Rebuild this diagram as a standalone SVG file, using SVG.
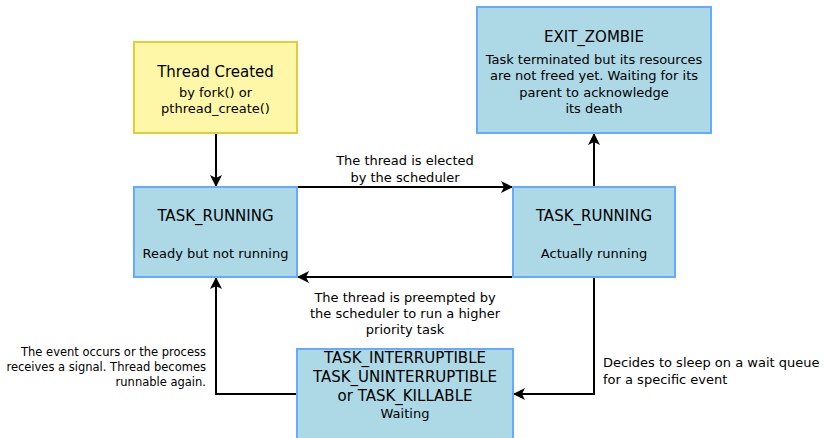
<svg xmlns="http://www.w3.org/2000/svg" width="825" height="438" viewBox="0 0 825 438">
<defs>
<marker id="arr" viewBox="0 0 12 12" refX="11" refY="6" markerWidth="12" markerHeight="12" markerUnits="userSpaceOnUse" orient="auto">
<path d="M0,0 L12,6 L0,12 L3,6 Z" fill="#000"/>
</marker>
<style>
text{font-family:"DejaVu Sans",sans-serif;fill:#000}
.t{font-size:15px;text-anchor:middle}
.s{font-size:13px;text-anchor:middle}
.l{font-size:13px}
.sm{font-size:11.5px;text-anchor:end}
.box{fill:#add8e6;stroke:#66aaff;stroke-width:2}
.yel{fill:#fff7a8;stroke:#e0cf3c;stroke-width:2}
.c{fill:none;stroke:#000;stroke-width:2;marker-end:url(#arr)}
</style>
</defs>
<rect width="825" height="438" fill="#fff"/>
<g id="connectors">
<path class="c" d="M216,133 V186"/>
<path class="c" d="M297,187 H512"/>
<path class="c" d="M513,277 H298"/>
<path class="c" d="M594,187 V134"/>
<path class="c" d="M594,277 V394 H514"/>
<path class="c" d="M297,394 H216 V278"/>
<text class="s" x="405" y="165">The thread is elected</text>
<text class="s" x="405" y="182">by the scheduler</text>
<text class="s" x="405" y="302">The thread is preempted by</text>
<text class="s" x="405" y="318">the scheduler to run a higher</text>
<text class="s" x="405" y="334">priority task</text>
<text class="l" x="603" y="367">Decides to sleep on a wait queue</text>
<text class="l" x="603" y="384">for a specific event</text>
<text class="sm" x="206" y="356">The event occurs or the process</text>
<text class="sm" x="206" y="371">receives a signal. Thread becomes</text>
<text class="sm" x="206" y="386">runnable again.</text>
</g>
<g id="created">
<rect class="yel" x="134" y="42" width="163" height="91"/>
<text class="t" x="215.5" y="77">Thread Created</text>
<text class="s" x="215.5" y="97">by fork() or</text>
<text class="s" x="215.5" y="113">pthread_create()</text>
</g>
<g id="ready">
<rect class="box" x="134" y="187" width="163" height="90"/>
<text class="t" x="215.5" y="221">TASK_RUNNING</text>
<text class="s" x="215.5" y="258">Ready but not running</text>
</g>
<g id="running">
<rect class="box" x="513" y="187" width="162" height="90"/>
<text class="t" x="594" y="221">TASK_RUNNING</text>
<text class="s" x="594" y="258">Actually running</text>
</g>
<g id="zombie">
<rect class="box" x="477" y="7" width="234" height="126"/>
<text class="t" x="594" y="42">EXIT_ZOMBIE</text>
<text class="s" x="594" y="64">Task terminated but its resources</text>
<text class="s" x="594" y="80">are not freed yet. Waiting for its</text>
<text class="s" x="594" y="97">parent to acknowledge</text>
<text class="s" x="594" y="113">its death</text>
</g>
<g id="waiting">
<rect class="box" x="297" y="349" width="216" height="95"/>
<text class="t" x="405" y="363">TASK_INTERRUPTIBLE</text>
<text class="t" x="405" y="382">TASK_UNINTERRUPTIBLE</text>
<text class="t" x="405" y="401">or TASK_KILLABLE</text>
<text class="s" x="405" y="418">Waiting</text>
</g>
</svg>
